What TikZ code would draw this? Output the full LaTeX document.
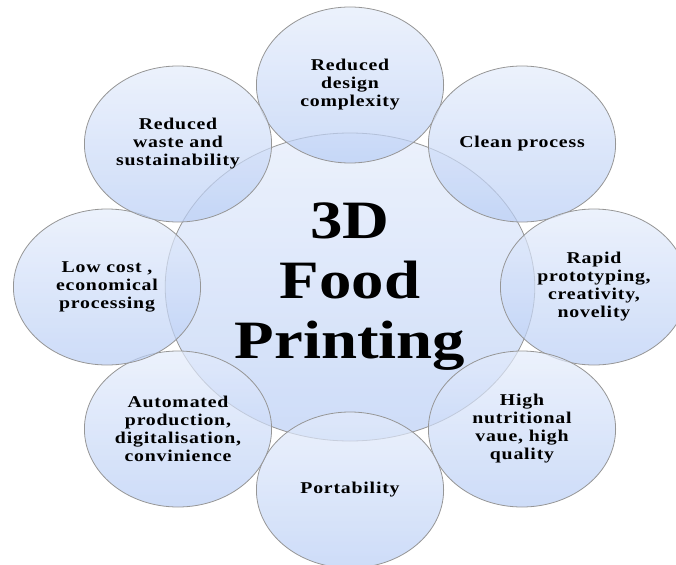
\documentclass[tikz,border=0pt]{standalone}
\usepackage{fontspec}
\setmainfont{Liberation Serif}
\newfontfamily\ringfont{Liberation Serif}[LetterSpace=4]
\definecolor{bubtop}{RGB}{228,236,251}
\definecolor{bubbot}{RGB}{184,205,245}
\definecolor{bubline}{RGB}{150,150,150}

\begin{document}
\begin{tikzpicture}
	[x=1pt,y=-1pt,
	 bubble/.style={circle,draw=bubline,line width=0.8pt,top color=bubtop,bottom color=bubbot,
	   fill opacity=0.7,text opacity=1,xscale=1.2,align=center,inner sep=0pt},
	 ring/.style={bubble,minimum size=156pt,font=\ringfont\bfseries\fontsize{16.5}{18}\selectfont},
	 hub/.style={bubble,minimum size=308pt,font=\bfseries\fontsize{54}{60}\selectfont}]
    \useasboundingbox (0,0) rectangle (676,564);

    \node[hub] (food) at (350,287) {3D\\Food\\Printing};

    \node[ring] (design) at (350,85) {Reduced\\design\\complexity};
    \node[ring] (clean) at (522,144) {Clean process};
    \node[ring] (rapid) at (594,287) {Rapid\\prototyping,\\creativity,\\novelity};
    \node[ring] (nutri) at (522,429) {High\\nutritional\\vaue, high\\quality};
    \node[ring] (port) at (350,490) {Portability};
    \node[ring] (auto) at (178,429) {Automated\\production,\\digitalisation,\\convinience};
    \node[ring] (cost) at (107,287) {Low cost ,\\economical\\processing};
    \node[ring] (waste) at (178,144) {Reduced\\waste and\\sustainability};

\end{tikzpicture}
\end{document}
